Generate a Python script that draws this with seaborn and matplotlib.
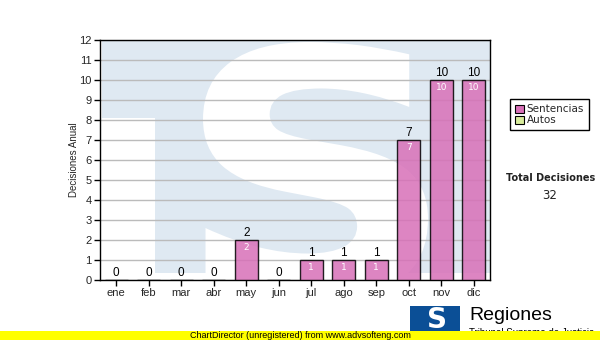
import matplotlib
matplotlib.use("Agg")
import matplotlib.pyplot as plt
import seaborn as sns
import pandas as pd
from matplotlib.patches import Rectangle, Patch, PathPatch
from matplotlib.textpath import TextPath
from matplotlib.font_manager import FontProperties
from matplotlib.transforms import Affine2D

months = ['ene', 'feb', 'mar', 'abr', 'may', 'jun', 'jul', 'ago', 'sep', 'oct', 'nov', 'dic']
sentencias = [0, 0, 0, 0, 2, 0, 1, 1, 1, 7, 10, 10]
autos = [0, 0, 0, 0, 0, 0, 0, 0, 0, 0, 0, 0]
yticks = list(range(0, 13))
total_label = "Total Decisiones"

df = pd.DataFrame({"mes": months, "Sentencias": sentencias, "Autos": autos})
df["total"] = df["Sentencias"] + df["Autos"]

sns.set_theme(style="white")
plt.rcParams['font.family'] = ['Liberation Sans', 'DejaVu Sans']

fig = plt.figure(figsize=(6, 3.4), dpi=100)
ax = fig.add_axes([100/600, 60/340, 390/600, 240/340])

PINK = '#d870b8'
BLUE_BG = '#dfe9f2'

# watermark
ax.add_patch(Rectangle((2/390, 7/240), 1 - 2/390, 1 - 7/240, transform=ax.transAxes,
                       facecolor=BLUE_BG, edgecolor='none', zorder=0))
ax.add_patch(Rectangle((0, 0), 55/390, 162/240, transform=ax.transAxes,
                       facecolor='white', edgecolor='none', zorder=0.1))
tp = TextPath((0, 0), "S", size=1, prop=FontProperties(family='DejaVu Sans', weight='bold'))
ext = tp.get_extents()
x0, x1 = (203 - 100)/390, (428 - 100)/390
y0, y1 = (280 - 300)/240, (280 - 42)/240
tr = Affine2D().translate(-ext.x0, -ext.y0).scale((x1 - x0)/ext.width, (y1 - y0)/ext.height).translate(x0, y0)
sp = PathPatch(tr.transform_path(tp), facecolor='white', edgecolor='none',
               transform=ax.transAxes, zorder=0.2)
ax.add_patch(sp)

sns.barplot(data=df, x="mes", y="Sentencias", color=PINK, alpha=0.85, width=0.7,
            edgecolor='black', linewidth=1, saturation=1, ax=ax, zorder=3)

for i, (s, t) in enumerate(zip(df["Sentencias"], df["total"])):
    ax.text(i, t + 0.05, str(t), ha='center', va='bottom', fontsize=8.5, color='black', zorder=5)
    if s > 0:
        ax.text(i, s - 0.17, str(s), ha='center', va='top', fontsize=6.5, color='white',
                family='DejaVu Sans', zorder=5)

ax.set_ylim(0, 12)
ax.set_xlim(-0.5, 11.5)
ax.set_yticks(yticks)
ax.yaxis.grid(True, color='#bbbbbb', linewidth=1, zorder=1)
ax.set_axisbelow(True)
for sp_ in ax.spines.values():
    sp_.set_color('black')
    sp_.set_linewidth(1)
ax.tick_params(axis='both', which='both', direction='out', length=4, width=1, color='black',
               labelsize=8, pad=2, bottom=True, left=True)
ax.set_xlabel("")
ax.set_ylabel("Decisiones Anual", fontsize=7, labelpad=0)

# legend
handles = [Patch(facecolor=PINK, edgecolor='black', linewidth=0.8, label='Sentencias'),
           Patch(facecolor='#d8ec9c', edgecolor='black', linewidth=0.8, label='Autos')]
leg = fig.legend(handles=handles, loc='upper left', bbox_to_anchor=(510/600, 1 - 99/340),
                 frameon=True, fancybox=False, edgecolor='black', framealpha=1,
                 handlelength=0.8, handleheight=0.8, handletextpad=0.3, borderpad=0.5,
                 borderaxespad=0, labelspacing=0.1, prop={'family': 'DejaVu Sans', 'size': 7.5})
leg.get_frame().set_linewidth(1)

fig.text(551/600, 1 - 178/340, total_label, ha='center', va='center', fontsize=7,
         fontweight='bold', family='DejaVu Sans', color='#222222')
fig.text(550/600, 1 - 196/340, str(sum(df["total"])), ha='center', va='center', fontsize=8.5,
         family='DejaVu Sans', color='#222222')

# logo
fig.patches.append(Rectangle((410/600, 1 - 331/340), 50/600, 25/340, transform=fig.transFigure,
                             facecolor='#0b4f96', edgecolor='none', zorder=1))
fig.text(437/600, 1 - 320/340, "S", ha='center', va='center', fontsize=20, fontweight='bold',
         color='white', family='DejaVu Sans', zorder=2)
fig.text(469/600, 1 - 316/340, "Regiones", ha='left', va='center', fontsize=14,
         color='black', family='Liberation Sans', zorder=2)
fig.text(469/600, 1 - 333/340, "Tribunal Supremo de Justicia", ha='left', va='center', fontsize=7,
         color='black', zorder=2)

# footer band
fig.patches.append(Rectangle((0, 0), 1, 9.5/340, transform=fig.transFigure,
                             facecolor='#ffff00', edgecolor='none', zorder=5))
fig.text(0.5, 4.8/340, "ChartDirector (unregistered) from www.advsofteng.com", ha='center',
         va='center', fontsize=6.5, color='black', zorder=6)

fig.savefig("out.png", dpi=100)
